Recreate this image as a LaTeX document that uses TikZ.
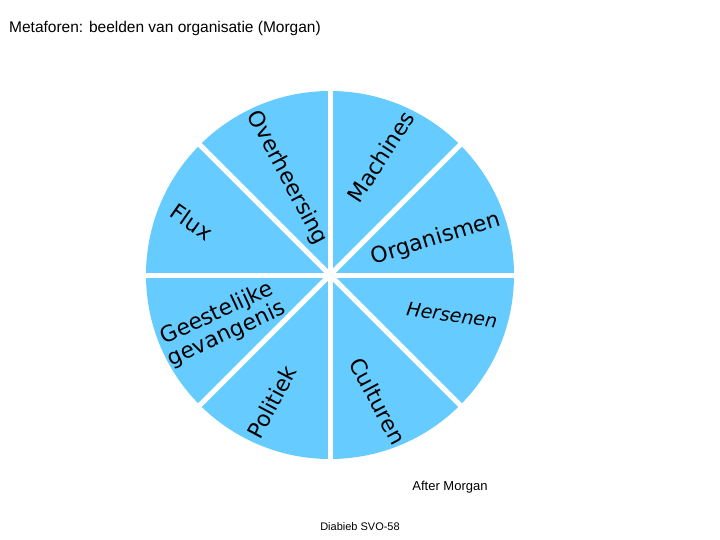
\documentclass[tikz,border=0pt]{standalone}
\usepackage{fontspec}
\setmainfont{Liberation Sans}
\newfontfamily\verd{DejaVu Sans}
\begin{document}
\begin{tikzpicture}[x=1pt,y=-1pt,
  lab/.style={font=\verd\fontsize{22}{23}\selectfont,inner sep=0pt,align=center}]
\useasboundingbox (0,0) rectangle (720,540);
\definecolor{pie}{HTML}{66CCFF}
\coordinate (c) at (330,275);
\fill[pie] (c) circle (184);
\foreach \a in {0,45,...,315} \draw[white,line width=5] (c) -- ++(\a:-190);
\node[lab,rotate=-62] (o) at (287,178) {Overheersing};
\node[lab,rotate=57] (m) at (381,157) {Machines};
\node[lab,rotate=-35] (f) at (192,222) {Flux};
\node[lab,rotate=17] (g) at (436,239) {Organismen};
\node[lab,rotate=-8,font=\verd\itshape\fontsize{19}{21}\selectfont] (h) at (452,315) {Hersenen};
\node[lab,rotate=25] (gg) at (222,324) {Geestelijke\\gevangenis};
\node[lab,rotate=62] (p) at (272,402) {Politiek};
\node[lab,rotate=-62] (cu) at (378,401) {Culturen};
\node[anchor=west,font=\fontsize{15.5}{17}\selectfont,inner sep=0] (t) at (9,28) {Metaforen: beelden van organisatie (Morgan)};
\node[font=\fontsize{13}{15}\selectfont,inner sep=0] (am) at (450,487) {After Morgan};
\node[font=\fontsize{11}{13}\selectfont,inner sep=0] (d) at (360,527) {Diabieb SVO-58};
\end{tikzpicture}
\end{document}
